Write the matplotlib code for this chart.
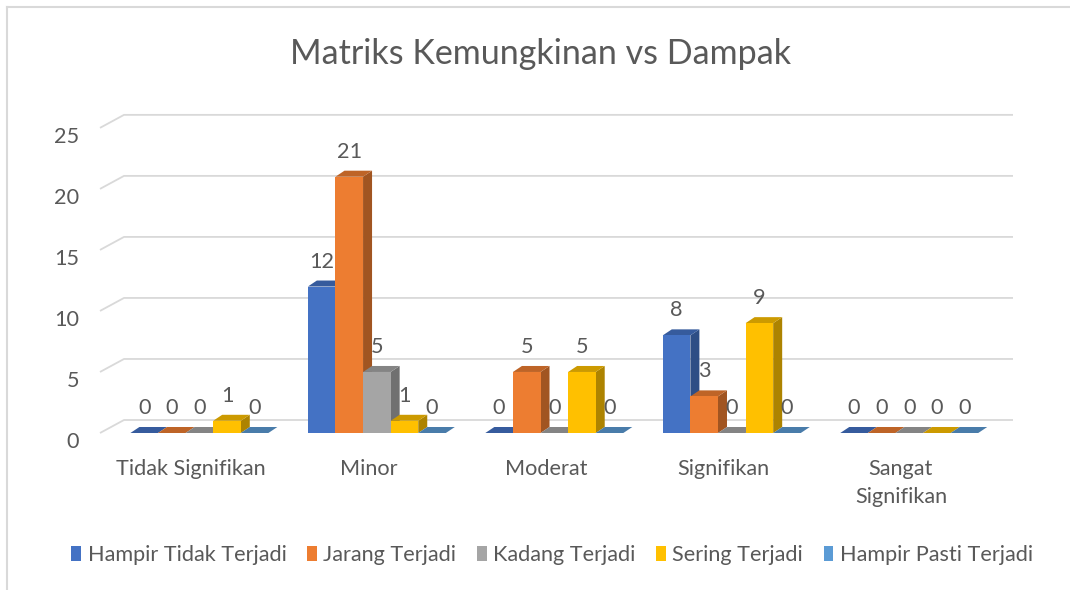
import matplotlib.pyplot as plt
from matplotlib.patches import Polygon, Patch
from matplotlib.lines import Line2D
import matplotlib.colors as mcolors

plt.rcParams['font.family'] = ['Lato', 'DejaVu Sans']

TITLE = 'Matriks Kemungkinan vs Dampak'
categories = ['Tidak Signifikan', 'Minor', 'Moderat', 'Signifikan', 'Sangat\nSignifikan']
series = ['Hampir Tidak Terjadi', 'Jarang Terjadi', 'Kadang Terjadi',
          'Sering Terjadi', 'Hampir Pasti Terjadi']
hampir_tidak = [0, 12, 0, 8, 0]
jarang = [0, 21, 5, 3, 0]
kadang = [0, 5, 0, 0, 0]
sering = [1, 1, 5, 9, 0]
hampir_pasti = [0, 0, 0, 0, 0]
yticks = [0, 5, 10, 15, 20, 25]

colors = ['#4472C4', '#ED7D31', '#A5A5A5', '#FFC000', '#5B9BD5']
TEXT = '#595959'
GRID = '#D9D9D9'
FS = 15.6


def shade(c, f):
    r, g, b = mcolors.to_rgb(c)
    return (r * f, g * f, b * f)


W, H = 1070, 590
fig = plt.figure(figsize=(W / 100, H / 100), dpi=100)
ax = fig.add_axes([100 / W, (H - 433) / H, 890 / W, 321 / H])
ax.set_xlim(-0.56, 4.455)
ax.set_ylim(0, 26.3)
ax.axis('off')

fig.canvas.draw()
inv = ax.transData.inverted()


def px(dx, dy):
    # pixel offset -> data offset
    x0, y0 = inv.transform((0, 0))
    x1, y1 = inv.transform((dx, dy))
    return x1 - x0, y1 - y0


# back wall gridlines with slanted side part
gdx, gdy = px(24, 13)
xr = inv.transform((1013, 0))[0]
x_left = ax.get_xlim()[0]
for v in yticks:
    ax.plot([x_left, x_left + gdx, xr], [v, v + gdy, v + gdy], color=GRID,
            lw=1.3, zorder=1, clip_on=False, solid_capstyle='butt')

bdx, bdy = px(9, 6)
bw = 0.1555
values = [hampir_tidak, jarang, kadang, sering, hampir_pasti]
z = 2
for ci in range(len(categories)):
    for si, vals in enumerate(values):
        v = vals[ci]
        x0 = ci + (si - 2.5) * bw
        x1 = x0 + bw
        c = colors[si]
        if v > 0:
            ax.add_patch(Polygon([(x1, 0), (x1, v), (x1 + bdx, v + bdy), (x1 + bdx, bdy)],
                                 closed=True, facecolor=shade(c, 0.68), edgecolor='none', zorder=z))
        ax.add_patch(Polygon([(x0, v), (x1, v), (x1 + bdx, v + bdy), (x0 + bdx, v + bdy)],
                             closed=True, facecolor=shade(c, 0.8), edgecolor='none', zorder=z))
        if v > 0:
            ax.bar(x0, v, width=bw, align='edge', color=c, zorder=z + 0.5)
        ax.annotate(str(v), (x0 + bw / 2, v), xytext=(0, 18), textcoords='offset points',
                    ha='center', va='center', fontsize=FS, color=TEXT, zorder=50)
        z += 1

# y tick labels
for v in yticks:
    ax.annotate(str(v), (x_left, v), xytext=(-15, -6.5), textcoords='offset points',
                ha='right', va='center', fontsize=FS, color=TEXT, annotation_clip=False)

# category labels
for ci, cat in enumerate(categories):
    ax.annotate(cat, (ci, 0), xytext=(-6, -19), textcoords='offset points',
                ha='center', va='top', fontsize=FS, color=TEXT, linespacing=1.45,
                annotation_clip=False)

fig.text(0.505, 1 - 54 / H, TITLE, ha='center', va='center', fontsize=24.5, color=TEXT)

handles = [Patch(facecolor=c, edgecolor='none') for c in colors]
fig.legend(handles, series, loc='center', bbox_to_anchor=(0.516, 1 - 555 / H), ncol=5,
           frameon=False, fontsize=FS, labelcolor=TEXT, handlelength=0.45,
           handleheight=0.75, handletextpad=0.3, columnspacing=0.95)

# chart area frame (left and top edges)
fig.add_artist(Line2D([7 / W, 7 / W], [0, 1 - 7 / H], color=GRID, lw=1.5))
fig.add_artist(Line2D([7 / W, 1], [1 - 7 / H, 1 - 7 / H], color=GRID, lw=1.5))

fig.savefig('out.png', dpi=100)
